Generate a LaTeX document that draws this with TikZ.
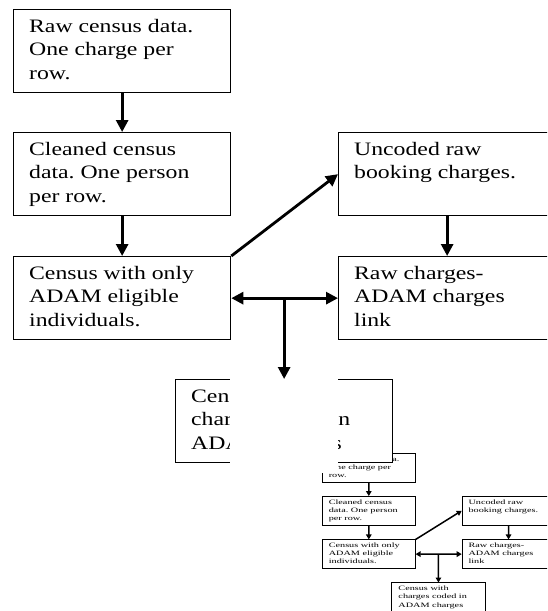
\documentclass[tikz,border=0pt]{standalone}
\usepackage{fontspec}
\setmainfont{Liberation Serif}[FakeStretch=1.25]
\usetikzlibrary{arrows.meta}
\frenchspacing
\tikzset{
  stage/.style={draw, fill=white, line width=1.3pt, anchor=north west, minimum width=217pt, minimum height=83pt, inner sep=0pt, font=\fontsize{19}{23.5}\selectfont},
  flow/.style={-{Triangle[length=12pt,width=12pt]}, line width=2.8pt},
  twoway/.style={{Triangle[length=12pt,width=12pt]}-{Triangle[length=12pt,width=12pt]}, line width=2.8pt},
  cover/.style={fill=white, draw=none}
}
\newcommand{\stagetext}[1]{\parbox[t][64pt][t]{186pt}{\raggedright #1}}
% the whole chart, drawn once full size and once as the small copy
\newcommand{\censusflow}{%
  \node[stage] (raw) at (13,9) {\stagetext{Raw census data.\\One charge per\\row.}};
  \node[stage] (clean) at (13,132) {\stagetext{Cleaned census\\data. One person\\per row.}};
  \node[stage] (elig) at (13,256) {\stagetext{Census with only\\ADAM eligible\\individuals.}};
  \node[stage] (uncoded) at (338,132) {\stagetext{Uncoded raw\\booking charges.}};
  \node[stage] (link) at (338,256) {\stagetext{Raw charges-\\ADAM charges\\link}};
  \node[stage] (coded) at (175,379) {\stagetext{Census with\\charges coded in\\ADAM charges}};
  \coordinate (split) at (elig.east -| coded.north);
  \draw[flow] (raw) -- (clean);
  \draw[flow] (clean) -- (elig);
  \draw[flow] (elig.north east) -- (uncoded.west);
  \draw[flow] (uncoded) -- (link);
  \draw[twoway] (elig) -- (link);
  \draw[flow] (split) -- (coded);
}

\begin{document}
\begin{tikzpicture}[x=1pt, y=-1pt]
  \clip (0,0) rectangle (547,611);
  \fill[white] (0,0) rectangle (547,611);
  % small copy
  \begin{scope}[shift={(316.4,449.85)}, xscale=0.43, yscale=0.35, transform shape, name prefix=t-,
      stage/.append style={line width=0.7pt},
      flow/.append style={line width=1.5pt, -{Triangle[length=5pt,width=5.5pt]}},
      twoway/.append style={line width=1.5pt, {Triangle[length=5pt,width=5.5pt]}-{Triangle[length=5pt,width=5.5pt]}}]
    \censusflow
  \end{scope}
  % full size chart
  \censusflow
  \fill[cover] (230,378.6) rectangle (338,473);
\end{tikzpicture}
\end{document}
